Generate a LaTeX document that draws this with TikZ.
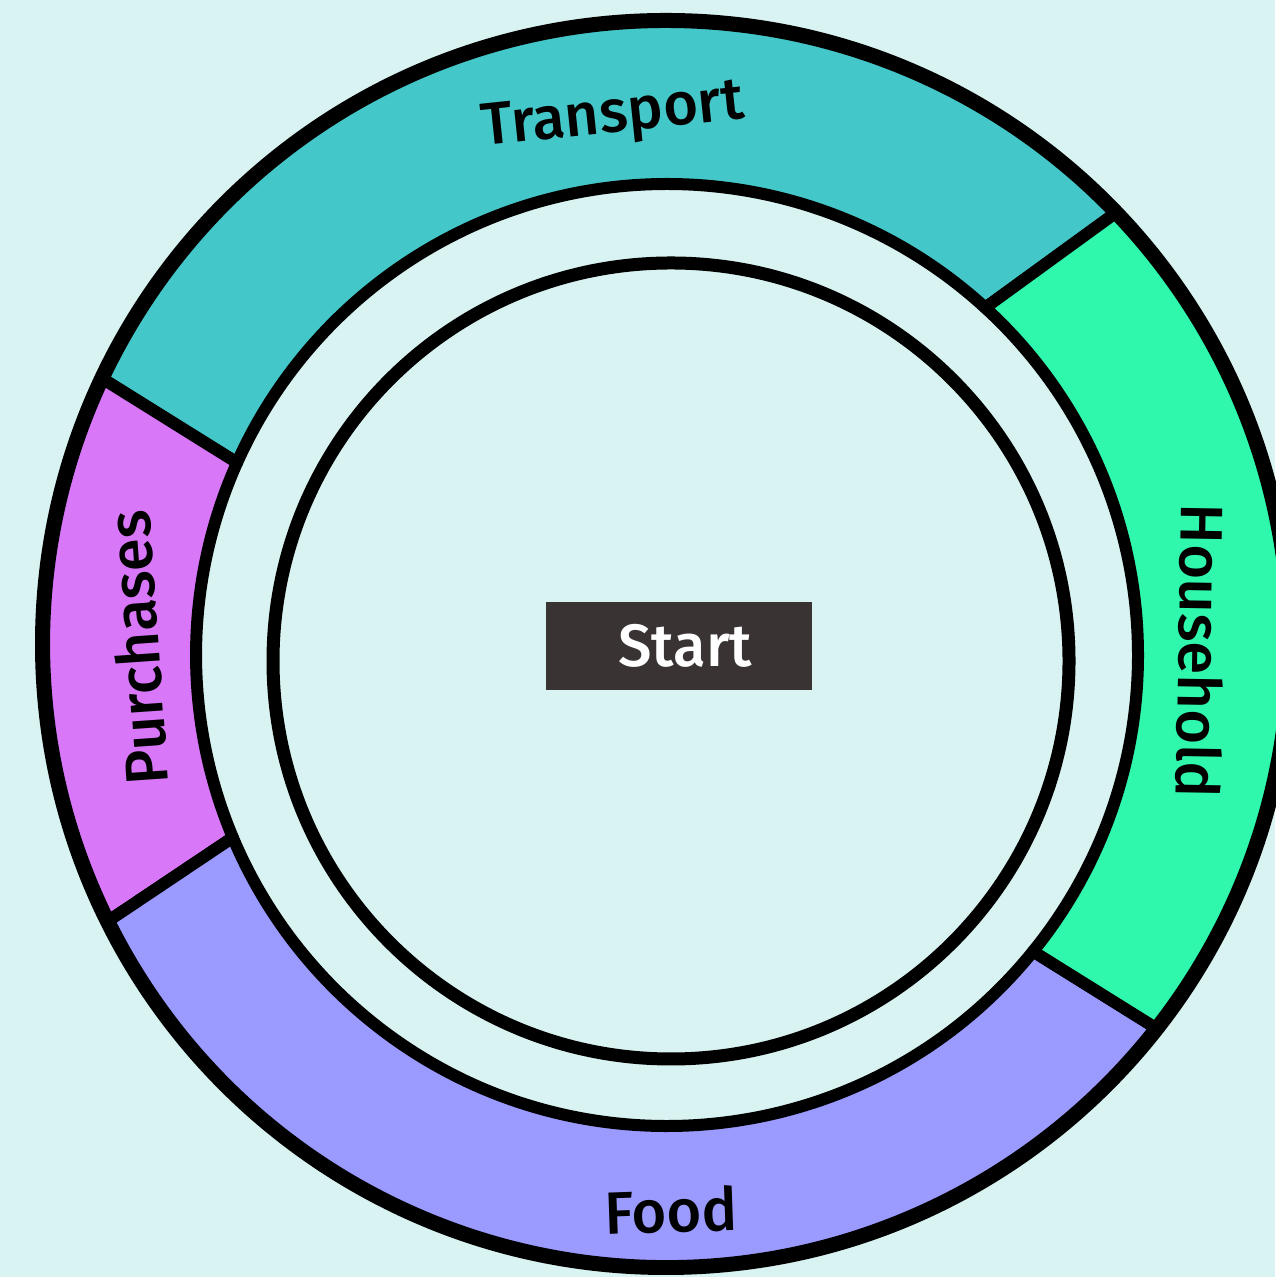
\documentclass[tikz,border=0pt]{standalone}
\usepackage{fontspec}
\setmainfont{Fira Sans}[UprightFont={* Medium}]
\usetikzlibrary{calc}

\definecolor{bgcyan}{HTML}{D9F3F2}
\definecolor{transport}{HTML}{44C7C9}
\definecolor{household}{HTML}{2FF8AD}
\definecolor{purchases}{HTML}{D878F9}
\definecolor{food}{HTML}{9B9BFF}
\definecolor{startgrey}{HTML}{3A3333}

\begin{document}
\begin{tikzpicture}
\tikzset{
    sector/.style={
        draw=black,
        line width=1.2mm,
        line join=round,
    },
    ringlabel/.style={
        font=\fontsize{17}{20}\selectfont,
        text=black,
        inner sep=0pt,
    },
    startbox/.style={
        fill=startgrey,
        minimum width=2.66cm,
        minimum height=0.88cm,
        text=white,
        font=\fontsize{17}{20}\selectfont,
    },
}

    \fill[bgcyan] (0,0) rectangle (12.75,12.77);
    \useasboundingbox (0,0) rectangle (12.75,12.77);

    \coordinate (outer) at (6.66,6.33);
    \coordinate (inner) at (6.67,6.22);
    \coordinate (core) at (6.71,6.16);

    % coloured parts of the ring
    \foreach \col/\oa/\ob/\ia/\ib in {
        transport/43.8/154.8/155.9/47.5,
        purchases/154.8/206.4/202.8/155.9,
        food/206.4/321.9/321.0/202.8,
        household/-38.1/43.8/47.5/-39.0}
    {
        \filldraw[sector, fill=\col] ($(outer)+(\oa:6.22)$)
            arc[start angle=\oa, end angle=\ob, radius=6.22cm]
            -- ($(inner)+(\ia:4.71)$)
            arc[start angle=\ia, end angle=\ib, radius=4.71cm]
            -- cycle;
    }

    % rim and core
    \draw[line width=0.9mm] (outer) circle[radius=6.265cm];
    \draw[line width=1.3mm] (core) circle[radius=3.98cm];

    % labels
    \node[ringlabel, rotate=6] (transportlabel) at (6.13,11.59) {Transport};
    \node[ringlabel, rotate=-91] (householdlabel) at (12.01,6.26) {Household};
    \node[ringlabel, rotate=94] (purchaseslabel) at (1.37,6.29) {Purchases};
    \node[ringlabel, rotate=2] (foodlabel) at (6.71,0.67) {Food};

    \node[startbox] (start) at (6.79,6.31) {\hspace{0.12cm}Start};

\end{tikzpicture}
\end{document}
